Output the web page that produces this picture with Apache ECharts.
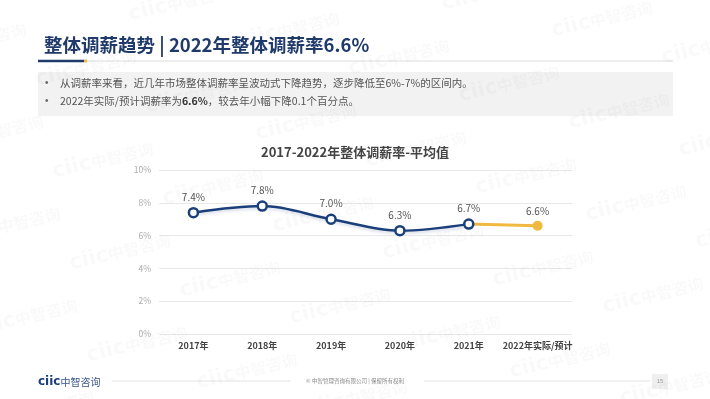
<!DOCTYPE html>
<html>
<head>
<meta charset="utf-8">
<script src="https://cdn.jsdelivr.net/npm/echarts@6/dist/echarts.min.js"></script>
<style>
  html, body { margin: 0; padding: 0; background: #fff; }
  #main { width: 710px; height: 399px; }
</style>
</head>
<body>
<div id="main"></div>
<script>
// 数据
const years = ['2017年', '2018年', '2019年', '2020年', '2021年', '2022年实际/预计'];
const actualRate = [7.4, 7.8, 7.0, 6.3, 6.7, null];
const forecastRate = [null, null, null, null, 6.7, 6.6];
const yMin = 0, yMax = 10, yStep = 2;

const pageTitle = '整体调薪趋势 | 2022年整体调薪率6.6%';
const chartTitle = '2017-2022年整体调薪率-平均值';
const bullet1 = '从调薪率来看，近几年市场整体调薪率呈波动式下降趋势，逐步降低至6%-7%的区间内。';
const bullet2 = '2022年实际/预计调薪率为{b|6.6%}，较去年小幅下降0.1个百分点。';

const NAVY = '#1b3f7a';
const GOLD = '#f0b93f';
const FONT = '"Noto Sans CJK SC", "Noto Sans", sans-serif';

// 水印 ciic中智咨询（斜向平铺）
function watermarks() {
  const list = [];
  for (let j = -4; j <= 2; j++) {
    for (let i = -3; i <= 7; i++) {
      const x = 120 + i * 110 + j * 17;
      const y = 252 + i * 27 + j * 92;
      if (x < -70 || x > 780 || y < -30 || y > 430) continue;
      list.push({
        type: 'text', x: x, y: y, rotation: 0.24, silent: true, z: 100,
        style: {
          text: '{a|ciic}{c|中智咨询}', align: 'center', verticalAlign: 'middle',
          rich: {
            a: { fontFamily: 'DejaVu Sans', fontWeight: 'bold', fontSize: 21, fill: 'rgba(0,0,0,0.025)' },
            c: { fontFamily: FONT, fontWeight: 'bold', fontSize: 16, fill: 'rgba(0,0,0,0.025)' }
          }
        }
      });
    }
  }
  return list;
}

const chart = echarts.init(document.getElementById('main'), null, { renderer: 'canvas' });

const labelFmt = p => p.value == null ? '' : p.value.toFixed(1) + '%';

chart.setOption({
  backgroundColor: '#fff',
  animation: false,
  textStyle: { fontFamily: FONT },
  grid: { left: 159, right: 138, top: 170, bottom: 65 },
  xAxis: {
    type: 'category',
    data: years,
    axisLine: { show: false },
    axisTick: { show: false },
    axisLabel: { interval: 0, color: '#444', fontSize: 9, fontWeight: 'bold', margin: 7, fontFamily: FONT }
  },
  yAxis: {
    type: 'value',
    min: yMin, max: yMax, interval: yStep,
    axisLabel: { formatter: '{value}%', color: '#aaa', fontSize: 8.5, margin: 8 },
    axisLine: { show: false },
    axisTick: { show: false },
    splitLine: { lineStyle: { color: '#e8e8e8', width: 1 } }
  },
  series: [
    {
      name: '预计',
      type: 'line',
      data: forecastRate,
      z: 2,
      symbol: 'circle',
      symbolSize: (v, p) => p.dataIndex === years.length - 1 ? 10 : 0,
      itemStyle: { color: GOLD },
      lineStyle: { color: GOLD, width: 3 },
      label: {
        show: true, position: 'top', distance: 5,
        color: '#555', fontSize: 10,
        formatter: p => p.dataIndex === years.length - 1 ? labelFmt(p) : ''
      }
    },
    {
      name: '实际',
      type: 'line',
      data: actualRate,
      z: 3,
      smooth: 0.35,
      symbol: 'circle',
      symbolSize: 9,
      itemStyle: { color: '#fff', borderColor: NAVY, borderWidth: 2.5 },
      lineStyle: {
        color: NAVY, width: 2.5,
        shadowColor: 'rgba(27,63,122,0.18)', shadowBlur: 3, shadowOffsetY: 2
      },
      label: { show: true, position: 'top', distance: 5, color: '#555', fontSize: 10, formatter: labelFmt }
    }
  ],
  graphic: [
    // 页面标题
    {
      type: 'text', left: 44, top: 36,
      style: { text: pageTitle, fontSize: 18.5, fontWeight: 'bold', fill: '#1f3a6b', fontFamily: FONT }
    },
    { type: 'line', shape: { x1: 38, y1: 61, x2: 673, y2: 61 }, style: { stroke: '#dedede', lineWidth: 1 } },
    { type: 'rect', shape: { x: 38, y: 59.8, width: 46, height: 2.4 }, style: { fill: '#1f3a6b' } },
    { type: 'rect', shape: { x: 84, y: 59.5, width: 3, height: 3 }, style: { fill: GOLD } },
    // 要点
    { type: 'rect', shape: { x: 38, y: 72, width: 635, height: 44 }, style: { fill: '#f2f2f2' } },
    { type: 'text', x: 45, y: 83, style: { text: '•', fontSize: 10, fill: '#666', verticalAlign: 'middle' } },
    { type: 'text', x: 45, y: 101, style: { text: '•', fontSize: 10, fill: '#666', verticalAlign: 'middle' } },
    {
      type: 'text', x: 60, y: 83,
      style: { text: bullet1, fontSize: 10.5, fill: '#555', verticalAlign: 'middle', fontFamily: FONT }
    },
    {
      type: 'text', x: 60, y: 101,
      style: {
        text: bullet2, fontSize: 10.5, fill: '#555', verticalAlign: 'middle', fontFamily: FONT,
        rich: { b: { fontSize: 10.5, fontWeight: 'bold', fill: '#333', fontFamily: FONT } }
      }
    },
    // 图表标题
    {
      type: 'text', x: 355, y: 152,
      style: { text: chartTitle, fontSize: 13, fontWeight: 'bold', fill: '#444', align: 'center', verticalAlign: 'middle', fontFamily: FONT }
    },
    // 页脚
    {
      type: 'text', x: 38, y: 382,
      style: {
        text: '{a|ciic}{c|中智咨询}', verticalAlign: 'middle',
        rich: {
          a: { fontFamily: 'DejaVu Sans', fontWeight: 'bold', fontSize: 12, fill: NAVY },
          c: { fontFamily: FONT, fontSize: 10, fill: '#3a5688' }
        }
      }
    },
    { type: 'line', shape: { x1: 112, y1: 381, x2: 291, y2: 381 }, style: { stroke: '#e3e3e3', lineWidth: 1 } },
    {
      type: 'text', x: 355, y: 381,
      style: { text: '© 中智管理咨询有限公司 | 保留所有权利', fontSize: 5.5, fill: '#888', align: 'center', verticalAlign: 'middle', fontFamily: FONT }
    },
    { type: 'line', shape: { x1: 424, y1: 381, x2: 650, y2: 381 }, style: { stroke: '#e3e3e3', lineWidth: 1 } },
    { type: 'rect', shape: { x: 652, y: 374, width: 16, height: 15 }, style: { fill: '#efefef' } },
    {
      type: 'text', x: 660, y: 381.5,
      style: { text: '15', fontSize: 6, fill: '#999', align: 'center', verticalAlign: 'middle' }
    }
  ].concat(watermarks())
});
</script>
</body>
</html>
